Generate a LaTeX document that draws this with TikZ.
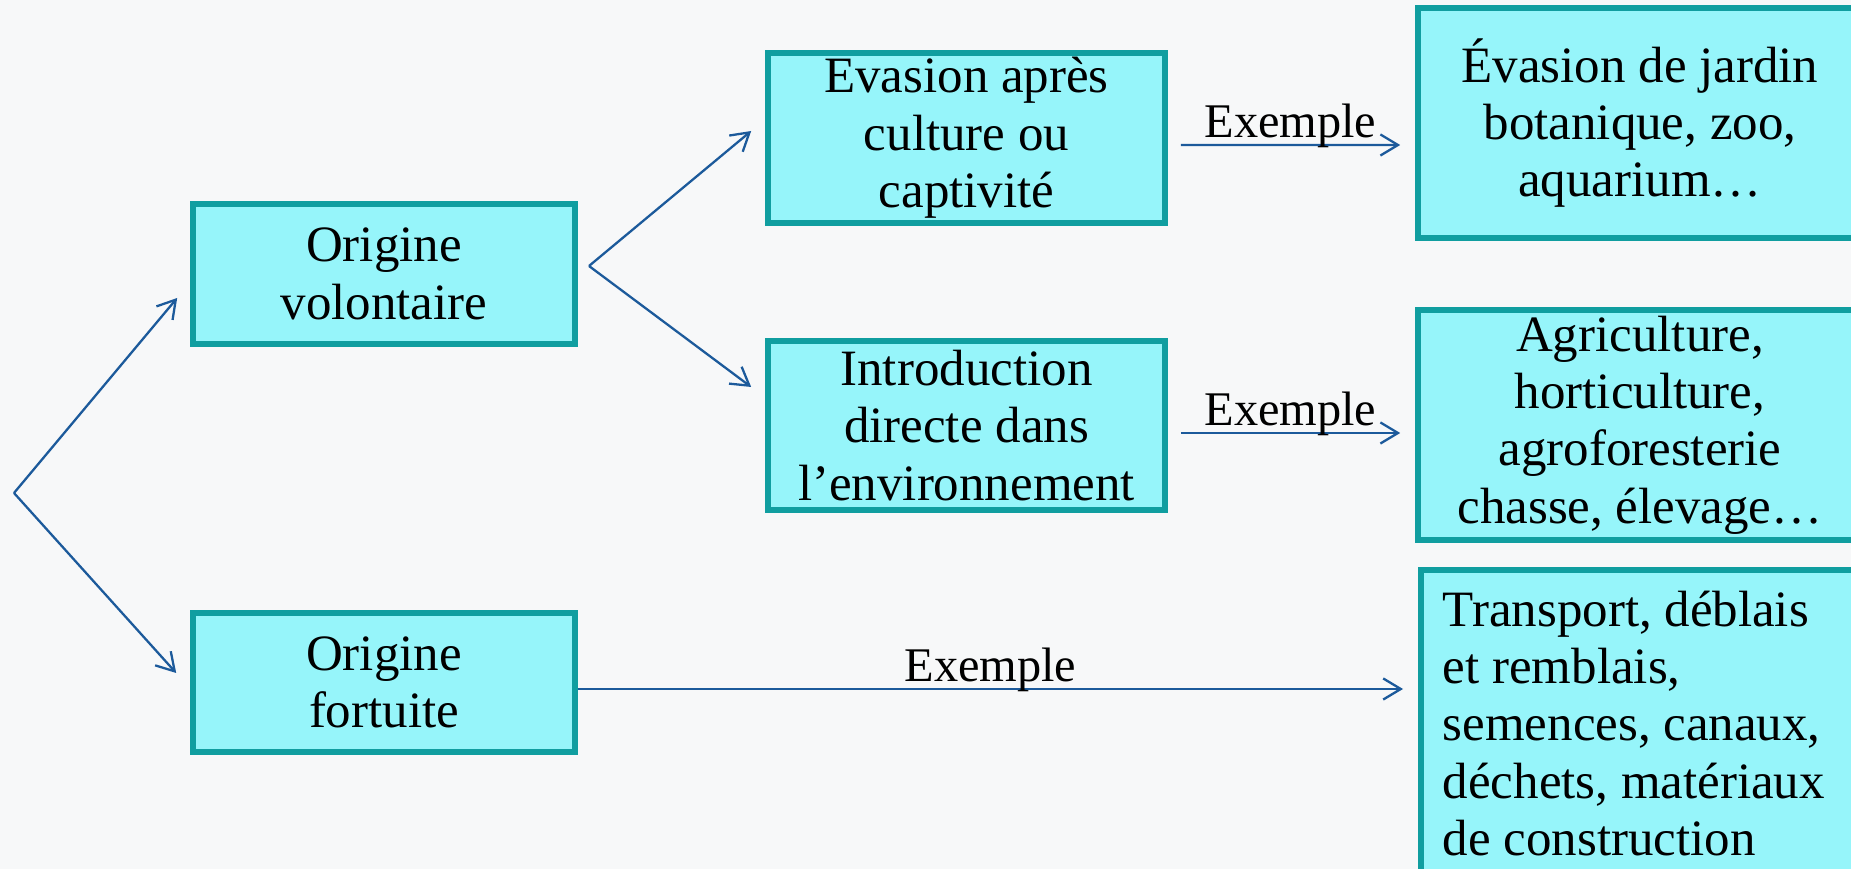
\documentclass[tikz,border=0pt]{standalone}
\usepackage{fontspec}
\setmainfont{Liberation Serif}
\usetikzlibrary{arrows.meta,calc}
\definecolor{boxfill}{RGB}{150,245,250}
\definecolor{boxline}{RGB}{16,158,160}
\definecolor{arrowblue}{RGB}{28,90,155}
\definecolor{bgcol}{RGB}{247,248,249}

\begin{document}
\begin{tikzpicture}[every node/.style={font=\fontsize{29}{32.6}\selectfont},
    box/.style={rectangle, draw=boxline, line width=3.2pt, fill=boxfill, align=center, inner sep=0pt},
    arr/.style={draw=arrowblue, line width=1.3pt, -{Straight Barb[length=10pt,width=12pt]}},
    lbl/.style={anchor=base, yshift=0.14cm, inner sep=0pt, font=\fontsize{27.5}{31}\selectfont}]
            % background
            \fill[bgcol] (0,0) rectangle (37.02,17.38);
            \useasboundingbox (0,0) rectangle (37.02,17.38);
            % origins
            \node[box, minimum width=7.64cm, minimum height=2.8cm] (vol) at (7.68,11.9) {Origine\\volontaire};
            \node[box, minimum width=7.64cm, minimum height=2.78cm] (fort) at (7.68,3.73) {Origine\\fortuite};
            % voluntary ways
            \node[box, minimum width=7.94cm, minimum height=3.4cm] (eva) at (19.33,14.62) {Evasion après\\culture ou\\captivité};
            \node[box, minimum width=7.94cm, minimum height=3.38cm] (intro) at (19.33,8.87) {Introduction\\directe dans\\l’environnement};
            % examples
            \node[box, minimum width=8.88cm, minimum height=4.6cm] (jardin) at (32.8,14.92) {Évasion de jardin\\botanique, zoo,\\aquarium…};
            \node[box, minimum width=8.88cm, minimum height=4.6cm] (agri) at (32.8,8.88) {Agriculture,\\horticulture,\\agroforesterie\\chasse, élevage…};
            \node[box, anchor=north west, minimum width=8.88cm, align=left, inner xsep=0.44cm, inner ysep=0.42cm] (trans) at (28.36,6.04) {Transport, déblais\\et remblais,\\semences, canaux,\\déchets, matériaux\\de construction\hspace*{3cm}};
            % forks
            \coordinate (root) at (0.28,7.52);
            \coordinate (fork) at (11.78,12.06);
            \draw[arr] (root) -- ([xshift=-0.26cm,yshift=-0.48cm]vol.west);
            \draw[arr] (root) -- ([xshift=-0.28cm,yshift=0.19cm]fort.west);
            \draw[arr] (fork) -- ([xshift=-0.28cm,yshift=0.14cm]eva.west);
            \draw[arr] (fork) -- ([xshift=-0.28cm,yshift=0.77cm]intro.west);
            % example arrows
            \draw[arr] ([xshift=0.26cm,yshift=-0.14cm]eva.east) -- ($(eva.east -| jardin.west)+(-0.3,-0.14)$) node[lbl, midway] {Exemple};
            \draw[arr] ([xshift=0.26cm,yshift=-0.15cm]intro.east) -- ($(intro.east -| agri.west)+(-0.3,-0.15)$) node[lbl, midway] {Exemple};
            \draw[arr] ([yshift=-0.13cm]fort.east) -- ($(fort.east -| trans.west)+(-0.3,-0.13)$) node[lbl, midway] {Exemple};
        \end{tikzpicture}
\end{document}
